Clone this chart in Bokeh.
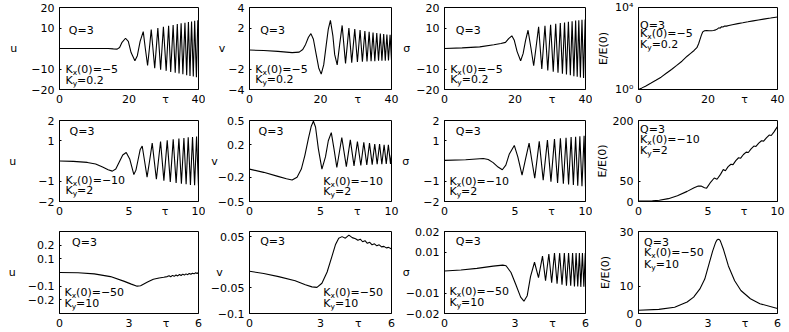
from bokeh.plotting import figure
from bokeh.layouts import gridplot
from bokeh.models import FixedTicker, Label, Range1d
from bokeh.embed import file_html
from bokeh.resources import INLINE
import math

# ------------------------------------------------------------------ data
# Row 1: Kx(0)=-5, Ky=0.2
t_u1 = [0, 8, 14, 15.5, 16.6, 17.3, 18.0, 19.0, 19.8, 20.6, 21.7, 22.4, 23.2, 24.1, 24.7, 25.35, 25.9,
        26.4, 27.4, 28.3, 29.1, 29.9, 30.7, 31.4, 32.0, 32.7, 33.3, 33.9, 34.4, 35.0, 35.5, 36.1, 36.6,
        37.1, 37.55, 38.0, 38.5, 38.9, 39.4, 39.8, 40.0]
u1 = [0, 0, 0, -0.2, -0.3, 0.5, 3.0, 5.0, 3.5, -2.0, -6.0, -3.5, 3.5, 8.2, 0.0, -8.3, 0.5,
      9.3, -9.6, 10.0, -10.3, 10.6, -10.9, 11.1, -11.4, 11.5, -11.8, 11.9, -12.2, 12.3, -12.6, 12.6, -13.0,
      12.9, -13.4, 13.2, -13.7, 13.5, -14.0, 13.8, 6.0]

t_v1 = [0, 4, 8, 12, 14, 15.0, 15.8, 16.6, 17.3, 18.0, 18.8, 19.5, 20.2, 20.9, 21.6, 22.2, 22.8, 23.5, 24.0,
        24.7, 25.4, 26.1, 27.05, 28.0, 28.8, 29.65, 30.4, 31.15, 31.8, 32.5, 33.1, 33.7, 34.25, 34.8, 35.3,
        35.85, 36.35, 36.85, 37.3, 37.8, 38.25, 38.7, 39.15, 39.6, 40.0]
v1 = [-0.15, -0.2, -0.28, -0.4, -0.35, -0.1, 0.4, 1.1, 1.45, 0.9, -0.6, -1.9, -2.5, -1.6, 0.3, 1.9, 2.75, 1.2, -0.6,
      -1.6, 0.4, 2.25, -1.45, 2.0, -1.38, 1.9, -1.32, 1.8, -1.3, 1.7, -1.27, 1.62, -1.25, 1.55, -1.23,
      1.5, -1.2, 1.45, -1.2, 1.4, -1.18, 1.37, -1.17, 1.35, -1.15]

t_s1 = [0, 5, 10, 14, 16, 17.3, 18.2, 19.1, 19.8, 20.6, 21.6, 22.3, 23.0, 23.7, 24.5, 25.3, 26.0, 26.7, 27.6,
        28.5, 29.3, 30.1, 30.85, 31.55, 32.2, 32.85, 33.45, 34.05, 34.6, 35.15, 35.7, 36.2, 36.7, 37.2,
        37.65, 38.1, 38.55, 39.0, 39.45, 39.9, 40.0]
s1 = [0.0, 0.3, 0.8, 1.8, 2.4, 3.0, 4.8, 6.2, 4.0, -1.5, -6.0, -2.5, 4.0, 8.9, 0.5, -8.4, 1.0, 10.6, -10.0,
      11.1, -10.7, 11.6, -11.3, 12.0, -11.8, 12.4, -12.3, 12.7, -12.7, 13.0, -13.1, 13.3, -13.5, 13.6,
      -13.8, 13.8, -14.1, 14.0, -14.4, 14.2, 11.0]

t_e1 = [0, 1, 2, 3.5, 5, 6.5, 8, 9.5, 11, 12.5, 14, 15, 16, 16.8, 17.3, 17.7, 18.1, 18.5, 19.0, 19.6, 20.3,
        21.0, 21.6, 22.2, 22.7, 23.1, 23.5, 23.9, 24.3, 24.8, 25.3, 26, 27, 28.6, 30, 31.5, 33, 34.5, 36,
        38, 40]
e1 = [1, 1.2, 1.45, 2.0, 2.8, 4.0, 6.2, 9.5, 15, 24, 42, 58, 80, 110, 170, 280, 450, 650, 740, 760, 740,
      740, 760, 810, 900, 1020, 980, 1150, 1120, 1250, 1230, 1320, 1450, 1640, 1800, 2000, 2230, 2450, 2700,
      3050, 3450]

# Row 2: Kx(0)=-10, Ky=2
t_u2 = [0, 1, 2, 2.6, 3.1, 3.5, 3.8, 4.05, 4.3, 4.55, 4.8, 5.05, 5.35, 5.5, 5.65, 5.8, 5.95, 6.12, 6.3,
        6.48, 6.67, 6.97, 7.27, 7.51, 7.75, 7.97, 8.18, 8.39, 8.59, 8.77, 8.95, 9.11, 9.26, 9.42, 9.57, 9.72,
        9.86, 10.0]
u2 = [0, -0.02, -0.07, -0.15, -0.3, -0.43, -0.5, -0.4, -0.05, 0.3, 0.42, 0.1, -0.67, -0.45, 0.05, 0.55,
      0.74, 0.0, -0.8, 0.0, 0.88, -0.9, 0.96, -0.97, 1.02, -1.03, 1.07, -1.08, 1.11, -1.12, 1.14, -1.15, 1.17,
      -1.18, 1.19, -1.2, 1.21, -1.22]

t_v2 = [0, 1, 2, 2.6, 3.0, 3.35, 3.65, 3.9, 4.15, 4.35, 4.5, 4.65, 4.85, 5.1, 5.35, 5.55, 5.76, 5.95, 6.15,
        6.5, 6.82, 7.1, 7.36, 7.6, 7.84, 8.05, 8.26, 8.45, 8.64, 8.82, 8.99, 9.16, 9.32, 9.48, 9.63, 9.78,
        9.93, 10.0]
v2 = [-0.1, -0.14, -0.19, -0.22, -0.235, -0.2, -0.1, 0.07, 0.28, 0.43, 0.49, 0.42, 0.15, -0.1, 0.05, 0.25,
      0.35, 0.15, -0.08, 0.29, -0.07, 0.26, -0.06, 0.24, -0.055, 0.23, -0.05, 0.22, -0.045, 0.21, -0.04,
      0.21, -0.04, 0.2, -0.035, 0.2, -0.035, 0.08]

t_s2 = [0, 1.5, 2.75, 3.1, 3.45, 3.8, 4.1, 4.35, 4.6, 4.95, 5.2, 5.5, 5.75, 6.0, 6.2, 6.4, 6.72, 7.0, 7.3, 7.55,
        7.8, 8.02, 8.22, 8.43, 8.62, 8.8, 8.98, 9.14, 9.3, 9.45, 9.6, 9.75, 9.9, 10.0]
s2 = [0.03, 0.06, 0.12, 0.07, -0.08, -0.3, -0.43, -0.2, 0.35, 0.77, 0.2, -0.7, 0.1, 0.88, 0.0, -0.85, 0.97,
      -0.95, 1.03, -1.02, 1.08, -1.08, 1.12, -1.12, 1.15, -1.16, 1.18, -1.19, 1.2, -1.22, 1.22, -1.25, 1.25,
      -1.27]

t_e2 = [0, 1, 1.5, 2.15, 2.8, 3.5, 4.0, 4.3, 4.5, 4.75, 4.9, 5.2, 5.45, 5.65, 5.9, 6.1, 6.25, 6.45, 6.65,
        6.8, 7.0, 7.2, 7.35, 7.55, 7.75, 7.9, 8.1, 8.3, 8.45, 8.65, 8.85, 9.0, 9.2, 9.4, 9.55, 9.75, 9.9, 10]
e2 = [1, 1.5, 3, 7, 14, 25, 34, 38, 38, 34, 33, 48, 58, 55, 67, 79, 76, 86, 92,
      91, 101, 108, 107, 116, 122, 121, 130, 137, 136, 144, 150, 149, 157, 164, 163, 172, 180, 185]

# Row 3: Kx(0)=-50, Ky=10
t_u3 = [0, 0.8, 1.5, 2.2, 2.8, 3.1, 3.35, 3.5, 3.8, 4.05, 4.3, 4.5, 4.65, 4.73, 4.8, 4.88, 4.95, 5.03, 5.1,
        5.18, 5.25, 5.32, 5.39, 5.46, 5.53, 5.6, 5.67, 5.74, 5.81, 5.88, 5.94, 6.0]
u3 = [0.0, -0.002, -0.01, -0.03, -0.065, -0.085, -0.1, -0.097, -0.07, -0.05, -0.04, -0.035, -0.03, -0.024,
      -0.031, -0.021, -0.028, -0.018, -0.025, -0.015, -0.022, -0.012, -0.019, -0.01, -0.016, -0.007, -0.013,
      -0.005, -0.01, -0.002, -0.007, 0.0]

t_v3 = [0, 0.6, 1.23, 1.93, 2.36, 2.64, 2.85, 3.06, 3.28, 3.49, 3.63, 3.77, 3.91, 4.05, 4.2, 4.34, 4.48,
        4.58, 4.68, 4.78, 4.88, 4.98, 5.08, 5.18, 5.28, 5.38, 5.48, 5.58, 5.68, 5.78, 5.88, 6.0]
v3 = [-0.0175, -0.022, -0.028, -0.036, -0.044, -0.048, -0.049, -0.041, -0.019, 0.0125, 0.034, 0.047, 0.05,
      0.047, 0.053, 0.048, 0.046, 0.043, 0.045, 0.04, 0.042, 0.037, 0.039, 0.034, 0.036, 0.032, 0.034, 0.03,
      0.031, 0.028, 0.029, 0.026]

t_s3 = [0, 0.7, 1.38, 2.07, 2.48, 2.62, 2.83, 3.03, 3.24, 3.38, 3.52, 3.66, 3.83, 4.0, 4.17, 4.3, 4.44,
        4.56, 4.68, 4.79, 4.9, 5.0, 5.1, 5.19, 5.28, 5.37, 5.45, 5.53, 5.6, 5.67, 5.74, 5.8, 5.87, 5.93, 5.99]
s3 = [0.0007, 0.0012, 0.002, 0.0031, 0.0036, 0.0033, 0.0, -0.0057, -0.012, -0.014, -0.0113, -0.002, 0.005,
      -0.0025, 0.008, -0.004, 0.009, -0.005, 0.0095, -0.0055, 0.0095, -0.006, 0.0095, -0.0065, 0.0095,
      -0.0065, 0.0095, -0.0068, 0.0095, -0.0068, 0.0095, -0.007, 0.0095, -0.007, 0.0095]

t_e3 = [0, 0.88, 1.56, 2.1, 2.38, 2.65, 2.86, 3.06, 3.2, 3.33, 3.38, 3.44, 3.5, 3.54, 3.67, 3.88, 4.15,
        4.42, 4.83, 5.24, 6.0]
e3 = [1.2, 1.5, 2.3, 4.2, 6.0, 9.0, 12.6, 18.6, 22.8, 26.0, 26.8, 27.2, 27.0, 26.4, 23.4, 17.4, 12.0,
      8.4, 5.4, 3.6, 1.8]

# axis ranges / ticks / tick labels
x_lims = [(0, 40), (0, 10), (0, 6)]
x_ticks = [[0, 20, 40], [0, 5, 10], [0, 3, 6]]
x_tick_labels = [["0", "20", "40"], ["0", "5", "10"], ["0", "3", "6"]]
tau_pos = [30.5, 7.6, 4.6]

y_lims = [[(-20, 20), (-4, 4), (-20, 20), (1, 1e4)],
          [(-2, 2), (-0.5, 0.5), (-2, 2), (0, 200)],
          [(-0.3, 0.3), (-0.1, 0.06), (-0.02, 0.02), (0, 30)]]
y_ticks = [[[-20, -10, 10, 20], [-4, -2, 2, 4], [-20, -10, 10, 20], [1, 1e4]],
           [[-2, -1, 1, 2], [-0.5, -0.2, 0.2, 0.5], [-2, -1, 1, 2], [0, 50, 200]],
           [[-0.2, -0.1, 0.1, 0.2], [-0.1, -0.05, 0.05], [-0.02, -0.01, 0.01, 0.02], [0, 10, 30]]]
y_tick_labels = [[["−20", "−10", "10", "20"], ["−4", "−2", "2", "4"], ["−20", "−10", "10", "20"], ["10⁰", "10⁴"]],
                 [["−2", "−1", "1", "2"], ["−0.5", "−0.2", "0.2", "0.5"], ["−2", "−1", "1", "2"], ["0", "50", "200"]],
                 [["−0.2", "−0.1", "0.1", "0.2"], ["−0.1", "−0.05", "0.05"], ["−0.02", "−0.01", "0.01", "0.02"], ["0", "10", "30"]]]
y_names = ["u", "v", "σ", "E/E(0)"]
kx_text = ["(0)=−5", "(0)=−10", "(0)=−50"]
ky_text = ["=0.2", "=2", "=10"]

series = [[(t_u1, u1), (t_v1, v1), (t_s1, s1), (t_e1, e1)],
          [(t_u2, u2), (t_v2, v2), (t_s2, s2), (t_e2, e2)],
          [(t_u3, u3), (t_v3, v3), (t_s3, s3), (t_e3, e3)]]

# ------------------------------------------------------------------ layout / style
FONT = "DejaVu Sans"
FS = "11px"
SUB_FS = "7.5px"
K_W = 7.2
SUB_W = 4.4

col_w = [205, 194, 193, 197]
col_left = [59, 44, 41, 38]
col_right = [7, 8, 7, 12]
row_h = [108, 112, 112]
row_top = [7, 12, 11]
row_bot = [16, 18, 16]

ylab_standoff = [[11, 0, 3, 2],
                 [19, -3, 11, 1],
                 [9, -15, -7, 5]]

# text positions as fractions of the frame: (Q x, Q y), (K x, Kx y, Ky y)
q_pos = [[(0.067, 0.72), (0.075, 0.72), (0.08, 0.72), (0.011, 0.785)],
         [(0.072, 0.86), (0.064, 0.86), (0.08, 0.87), (0.011, 0.89)],
         [(0.09, 0.86), (0.075, 0.88), (0.08, 0.88), (0.04, 0.87)]]
k_pos = [[(0.043, 0.24, 0.11), (0.04, 0.24, 0.12), (0.04, 0.24, 0.12), (0.011, 0.685, 0.55)],
         [(0.043, 0.26, 0.13), (0.52, 0.25, 0.12), (0.035, 0.25, 0.12), (0.011, 0.77, 0.63)],
         [(0.036, 0.255, 0.125), (0.52, 0.255, 0.125), (0.035, 0.265, 0.135), (0.04, 0.74, 0.60)]]


def frac_to_data(xr, yr, log, fx, fy):
    x = xr[0] + fx * (xr[1] - xr[0])
    if log:
        a, b = math.log10(yr[0]), math.log10(yr[1])
        y = 10 ** (a + fy * (b - a))
    else:
        y = yr[0] + fy * (yr[1] - yr[0])
    return x, y


def txt(p, x, y, text, size=FS, xo=0, yo=0):
    p.add_layout(Label(x=x, y=y, x_offset=xo, y_offset=yo, text=text, text_font=FONT,
                       text_font_size=size, text_color="black", text_baseline="middle",
                       text_align="left"))


def make_panel(r, c):
    xr = x_lims[r]
    yr = y_lims[r][c]
    log = (c == 3 and r == 0)
    p = figure(width=col_w[c], height=row_h[r],
               x_range=Range1d(*xr), y_range=Range1d(*yr),
               y_axis_type="log" if log else "linear",
               output_backend="svg", toolbar_location=None,
               min_border_left=col_left[c], min_border_right=col_right[c],
               min_border_top=row_top[r], min_border_bottom=row_bot[r],
               background_fill_color="white", border_fill_color="white",
               outline_line_color="black", outline_line_width=1, outline_line_alpha=1)
    p.xgrid.visible = False
    p.ygrid.visible = False

    t, y = series[r][c]
    p.line(t, y, line_color="black", line_width=1.1)

    xt = list(x_ticks[r]) + [tau_pos[r]]
    xl = list(x_tick_labels[r]) + ["τ"]
    p.xaxis.ticker = FixedTicker(ticks=xt)
    p.xaxis.major_label_overrides = {v: s for v, s in zip(xt, xl)}
    yt = list(y_ticks[r][c])
    p.yaxis.ticker = FixedTicker(ticks=yt)
    p.yaxis.major_label_overrides = {v: s for v, s in zip(yt, y_tick_labels[r][c])}

    for ax in (p.xaxis[0], p.yaxis[0]):
        ax.major_label_text_font = FONT
        ax.major_label_text_font_size = FS
        ax.major_label_text_color = "black"
        ax.axis_line_color = "black"
        ax.major_tick_line_color = "black"
        ax.major_tick_out = 0
        ax.minor_tick_line_color = None
    p.xaxis.major_tick_in = 0
    p.yaxis.major_tick_in = 2
    p.xaxis.major_label_standoff = 3
    p.yaxis.major_label_standoff = 5

    p.yaxis.axis_label = y_names[c]
    p.yaxis.axis_label_text_font = FONT
    p.yaxis.axis_label_text_font_size = FS
    p.yaxis.axis_label_text_font_style = "normal"
    p.yaxis.axis_label_text_color = "black"
    p.yaxis.axis_label_standoff = ylab_standoff[r][c]
    if c < 3:
        p.yaxis.axis_label_orientation = "horizontal"

    qx, qy = frac_to_data(xr, yr, log, *q_pos[r][c])
    txt(p, qx, qy, "Q=3")
    fx, fkx, fky = k_pos[r][c]
    for fy, sub, rest in ((fkx, "x", kx_text[r]), (fky, "y", ky_text[r])):
        x, yy = frac_to_data(xr, yr, log, fx, fy)
        txt(p, x, yy, "K")
        txt(p, x, yy, sub, size=SUB_FS, xo=K_W, yo=-3)
        txt(p, x, yy, rest, xo=K_W + SUB_W)
    return p


rows = [[make_panel(r, c) for c in range(4)] for r in range(3)]
grid = gridplot(rows, toolbar_location=None)

open("out.html", "w").write(file_html(grid, INLINE))
